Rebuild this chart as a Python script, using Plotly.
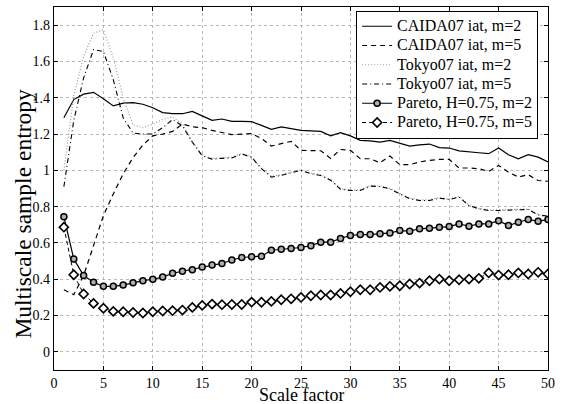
import plotly.graph_objects as go

scale = list(range(1, 51))

caida_m2 = [1.29, 1.39, 1.42, 1.43, 1.395, 1.355, 1.37, 1.373, 1.364, 1.345,
            1.318, 1.312, 1.312, 1.325, 1.30, 1.276, 1.283, 1.27, 1.27, 1.268,
            1.248, 1.226, 1.239, 1.23, 1.22, 1.217, 1.215, 1.19, 1.208, 1.19,
            1.165, 1.162, 1.156, 1.165, 1.15, 1.134, 1.14, 1.145, 1.125, 1.123,
            1.107, 1.104, 1.097, 1.092, 1.123, 1.086, 1.064, 1.086, 1.073, 1.046]

caida_m5 = [0.342, 0.315, 0.42, 0.58, 0.75, 0.87, 0.98, 1.07, 1.14, 1.19,
            1.20, 1.215, 1.255, 1.24, 1.235, 1.22, 1.21, 1.197, 1.20, 1.202,
            1.175, 1.134, 1.147, 1.16, 1.11, 1.11, 1.108, 1.066, 1.115, 1.11,
            1.064, 1.064, 1.042, 1.079, 1.031, 1.031, 1.046, 1.055, 1.06, 1.06,
            1.013, 1.013, 1.009, 0.994, 1.027, 0.99, 0.963, 0.976, 0.944, 0.94]

tokyo_m2 = [1.0, 1.41, 1.63, 1.755, 1.775, 1.62, 1.40, 1.25, 1.235, 1.255,
            1.28, 1.294, 1.255, 1.16, 1.085, 1.065, 1.07, 1.072, 1.093, 1.075,
            1.012, 0.968, 0.975, 0.99, 1.003, 0.985, 0.975, 0.95, 0.90, 0.892,
            0.893, 0.916, 0.914, 0.90, 0.874, 0.846, 0.837, 0.838, 0.85, 0.842,
            0.856, 0.81, 0.79, 0.782, 0.782, 0.784, 0.785, 0.787, 0.758, 0.738]

tokyo_m5 = [0.91, 1.275, 1.51, 1.665, 1.655, 1.50, 1.29, 1.205, 1.20, 1.20,
            1.235, 1.28, 1.245, 1.155, 1.08, 1.062, 1.066, 1.068, 1.09, 1.072,
            1.009, 0.963, 0.972, 0.987, 1.0, 0.981, 0.972, 0.945, 0.896, 0.889,
            0.889, 0.913, 0.911, 0.898, 0.871, 0.843, 0.834, 0.834, 0.847, 0.839,
            0.853, 0.806, 0.788, 0.779, 0.779, 0.782, 0.782, 0.784, 0.755, 0.748]

pareto_m2 = [0.745, 0.512, 0.42, 0.383, 0.361, 0.361, 0.368, 0.381, 0.392, 0.40,
             0.412, 0.433, 0.444, 0.453, 0.468, 0.478, 0.487, 0.506, 0.52, 0.524,
             0.527, 0.56, 0.565, 0.569, 0.575, 0.585, 0.604, 0.604, 0.625, 0.641,
             0.646, 0.646, 0.65, 0.655, 0.668, 0.665, 0.678, 0.681, 0.687, 0.69,
             0.705, 0.692, 0.705, 0.705, 0.723, 0.696, 0.714, 0.729, 0.72, 0.729]

pareto_m5 = [0.687, 0.425, 0.319, 0.267, 0.24, 0.223, 0.221, 0.217, 0.214, 0.221,
             0.225, 0.227, 0.23, 0.245, 0.256, 0.263, 0.26, 0.261, 0.261, 0.274,
             0.273, 0.278, 0.287, 0.292, 0.30, 0.309, 0.313, 0.313, 0.322, 0.331,
             0.342, 0.342, 0.355, 0.361, 0.364, 0.374, 0.379, 0.392, 0.401, 0.392,
             0.397, 0.401, 0.405, 0.435, 0.423, 0.425, 0.435, 0.429, 0.438, 0.429]

names = ["CAIDA07 iat, m=2", "CAIDA07 iat, m=5", "Tokyo07 iat, m=2",
         "Tokyo07 iat, m=5", "Pareto, H=0.75, m=2", "Pareto, H=0.75, m=5"]

x_ticks = list(range(0, 51, 5))
y_ticks = [0, 0.2, 0.4, 0.6, 0.8, 1.0, 1.2, 1.4, 1.6, 1.8]
y_tick_labels = ["0", "0.2", "0.4", "0.6", "0.8", "1", "1.2", "1.4", "1.6", "1.8"]
x_title = "Scale factor"
y_title = "Multiscale sample entropy"

FONT = "Liberation Serif"


def legend_name(s):
    return '<span style="font-size:16px">' + s + '</span>'


fig = go.Figure()
fig.add_trace(go.Scatter(x=scale, y=caida_m2, name=legend_name(names[0]), mode="lines",
                         line=dict(color="black", width=1.2)))
fig.add_trace(go.Scatter(x=scale, y=caida_m5, name=legend_name(names[1]), mode="lines",
                         line=dict(color="black", width=1.2, dash="5px,4px")))
fig.add_trace(go.Scatter(x=scale, y=tokyo_m2, name=legend_name(names[2]), mode="lines",
                         line=dict(color="#9a9a9a", width=1.2, dash="1px,2px")))
fig.add_trace(go.Scatter(x=scale, y=tokyo_m5, name=legend_name(names[3]), mode="lines",
                         line=dict(color="black", width=1.1, dash="5px,3px,1px,3px")))
fig.add_trace(go.Scatter(x=scale, y=pareto_m2, name=legend_name(names[4]), mode="lines+markers",
                         line=dict(color="black", width=1.2),
                         marker=dict(symbol="circle", size=6, color="#b0b0b0",
                                     line=dict(color="black", width=1.5))))
fig.add_trace(go.Scatter(x=scale, y=pareto_m5, name=legend_name(names[5]), mode="lines+markers",
                         line=dict(color="black", width=1.0, dash="4px,3px"),
                         marker=dict(symbol="diamond", size=7, color="white",
                                     line=dict(color="black", width=1.6))))

axis_common = dict(
    showline=True, linecolor="black", linewidth=1.2, mirror="ticks",
    ticks="inside", ticklen=4, tickcolor="black", tickwidth=1,
    showgrid=True, gridcolor="#b8b8b8", gridwidth=1, griddash="dot",
    zeroline=False, automargin=False,
    tickfont=dict(family=FONT, size=14, color="black"),
)

fig.update_xaxes(range=[0, 50], tickvals=x_ticks, **axis_common)
fig.update_yaxes(range=[-0.1, 1.9], tickvals=y_ticks, ticktext=y_tick_labels,
                 **axis_common)

fig.add_annotation(text=x_title, xref="paper", yref="paper", x=0.5, y=-0.0675,
                   xanchor="center", yanchor="middle", height=17, valign="middle",
                   showarrow=False,
                   font=dict(family=FONT, size=18, color="black"))
fig.add_annotation(text=y_title, xref="paper", yref="paper", x=-0.062, y=0.432,
                   xanchor="center", yanchor="middle", textangle=-90, showarrow=False,
                   font=dict(family=FONT, size=23.5, color="black"))

fig.update_layout(
    width=563, height=404,
    margin=dict(l=54, r=15, t=7, b=34, autoexpand=False),
    paper_bgcolor="white", plot_bgcolor="white",
    font=dict(family=FONT, color="black"),
    showlegend=True,
    legend=dict(x=0.98, y=0.99, xanchor="right", yanchor="top",
                bgcolor="white", bordercolor="black", borderwidth=1,
                font=dict(family=FONT, size=12.5, color="black"),
                itemwidth=30, tracegroupgap=0),
)

fig.write_html("out.html", config={"displayModeBar": False},
               post_script="document.body.style.margin='0';document.body.style.overflow='hidden';")
